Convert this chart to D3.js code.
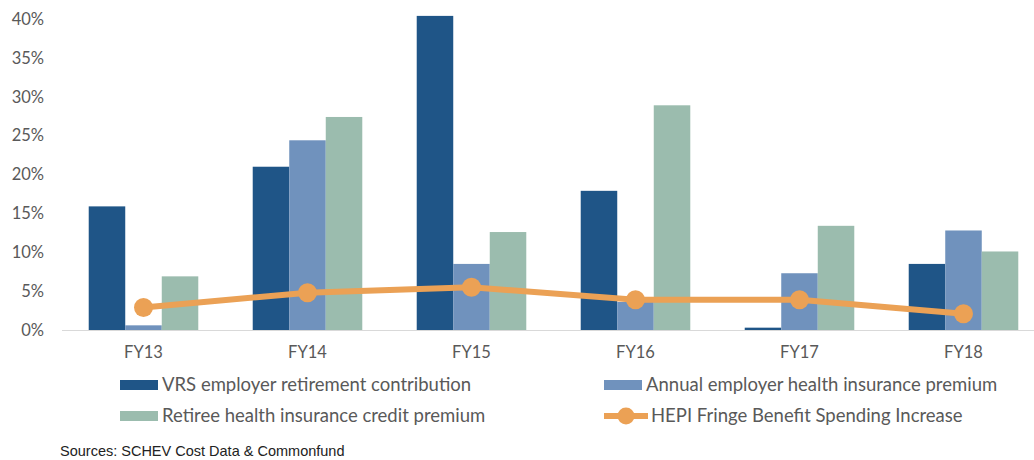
<!DOCTYPE html>
<html>
<head>
<meta charset="utf-8">
<script src="https://cdn.jsdelivr.net/npm/d3@7"></script>
<style>
  body { margin: 0; background: #fff; }
</style>
</head>
<body>
<div id="chart"></div>
<script>
// chart values
let years = ["FY13", "FY14", "FY15", "FY16", "FY17", "FY18"];
let vrs = [15.9, 21.0, 40.4, 17.9, 0.3, 8.5];
let annualPremium = [0.6, 24.4, 8.5, 3.6, 7.3, 12.8];
let retireeCredit = [6.9, 27.4, 12.6, 28.9, 13.4, 10.1];
let hepi = [2.9, 4.8, 5.5, 3.9, 3.9, 2.1];
let yTicks = [0, 5, 10, 15, 20, 25, 30, 35, 40];

let seriesNames = [
  "VRS employer retirement contribution",
  "Annual employer health insurance premium",
  "Retiree health insurance credit premium"
];
let lineName = "HEPI Fringe Benefit Spending Increase";
let colors = ["#1f5587", "#7092bd", "#9bbcae"];
let lineColor = "#eba155";

let svgWidth = 1034;
let svgHeight = 460;
let mainFont = "Lato, 'Open Sans', sans-serif";

let svg = d3.select("#chart")
  .append("svg")
  .attr("width", svgWidth)
  .attr("height", svgHeight);

// x scale - the last group runs a little past the right edge like in the original
let x0 = d3.scaleBand()
  .domain(years)
  .range([61.5, 1045.5])
  .paddingInner(0.332)
  .paddingOuter(0.166);

let x1 = d3.scaleBand()
  .domain([0, 1, 2])
  .range([0, x0.bandwidth()]);

let y = d3.scaleLinear()
  .domain([0, 40])
  .range([330, 19]);

// y axis labels only, no line
let yAxis = svg.append("g")
  .attr("transform", "translate(44,0)")
  .call(d3.axisLeft(y).tickValues(yTicks).tickFormat(d => d + "%").tickSize(0).tickPadding(0));
yAxis.select(".domain").remove();
yAxis.selectAll("text")
  .style("font-family", mainFont)
  .style("font-size", "16.5px")
  .attr("fill", "#595959");

// bars
let rows = years.map((yr, i) => ({ year: yr, vals: [vrs[i], annualPremium[i], retireeCredit[i]] }));

let groups = svg.selectAll(".year-group")
  .data(rows)
  .enter()
  .append("g")
  .attr("class", "year-group")
  .attr("transform", d => `translate(${x0(d.year)},0)`);

groups.selectAll("rect")
  .data(d => d.vals.map((v, k) => ({ k: k, v: v })))
  .enter()
  .append("rect")
  .attr("x", d => x1(d.k))
  .attr("y", d => y(d.v))
  .attr("width", x1.bandwidth())
  .attr("height", d => y(0) - y(d.v))
  .attr("fill", d => colors[d.k]);

// x axis line + labels
let xAxis = svg.append("g")
  .attr("transform", `translate(0,${y(0)})`)
  .call(d3.axisBottom(x0).tickSize(0).tickPadding(16));
xAxis.select(".domain")
  .attr("stroke", "#d9d9d9")
  .attr("stroke-width", 1.2);
xAxis.selectAll("text")
  .style("font-family", mainFont)
  .style("font-size", "16.5px")
  .attr("fill", "#595959");

// HEPI line
let cx = d => x0(years[d]) + x0.bandwidth() / 2;
let line = d3.line()
  .x((d, i) => cx(i))
  .y(d => y(d));

svg.append("path")
  .datum(hepi)
  .attr("d", line)
  .attr("fill", "none")
  .attr("stroke", lineColor)
  .attr("stroke-width", 6)
  .attr("stroke-linejoin", "round");

svg.selectAll(".hepi-dot")
  .data(hepi)
  .enter()
  .append("circle")
  .attr("class", "hepi-dot")
  .attr("cx", (d, i) => cx(i))
  .attr("cy", d => y(d))
  .attr("r", 9.5)
  .attr("fill", lineColor);

// legend
let legend = svg.append("g");
let legendItems = [
  { name: seriesNames[0], color: colors[0], x: 120, y: 385, type: "bar" },
  { name: seriesNames[1], color: colors[1], x: 604, y: 385, type: "bar" },
  { name: seriesNames[2], color: colors[2], x: 120, y: 416, type: "bar" },
  { name: lineName, color: lineColor, x: 604, y: 416, type: "line" }
];

legendItems.forEach(function(item) {
  if (item.type === "bar") {
    legend.append("rect")
      .attr("x", item.x)
      .attr("y", item.y - 5)
      .attr("width", 38)
      .attr("height", 10)
      .attr("fill", item.color);
  } else {
    legend.append("line")
      .attr("x1", item.x)
      .attr("x2", item.x + 44)
      .attr("y1", item.y)
      .attr("y2", item.y)
      .attr("stroke", item.color)
      .attr("stroke-width", 6);
    legend.append("circle")
      .attr("cx", item.x + 22)
      .attr("cy", item.y)
      .attr("r", 8.5)
      .attr("fill", item.color);
  }
  legend.append("text")
    .attr("x", item.x + (item.type === "bar" ? 42 : 47))
    .attr("y", item.y)
    .attr("dy", "0.35em")
    .style("font-family", mainFont)
    .style("font-size", "18.5px")
    .attr("fill", "#595959")
    .text(item.name);
});

// source note
svg.append("text")
  .attr("x", 60)
  .attr("y", 456)
  .style("font-family", "'Liberation Sans', Arial, sans-serif")
  .style("font-size", "14.5px")
  .attr("fill", "#222")
  .text("Sources: SCHEV Cost Data & Commonfund");
</script>
</body>
</html>
